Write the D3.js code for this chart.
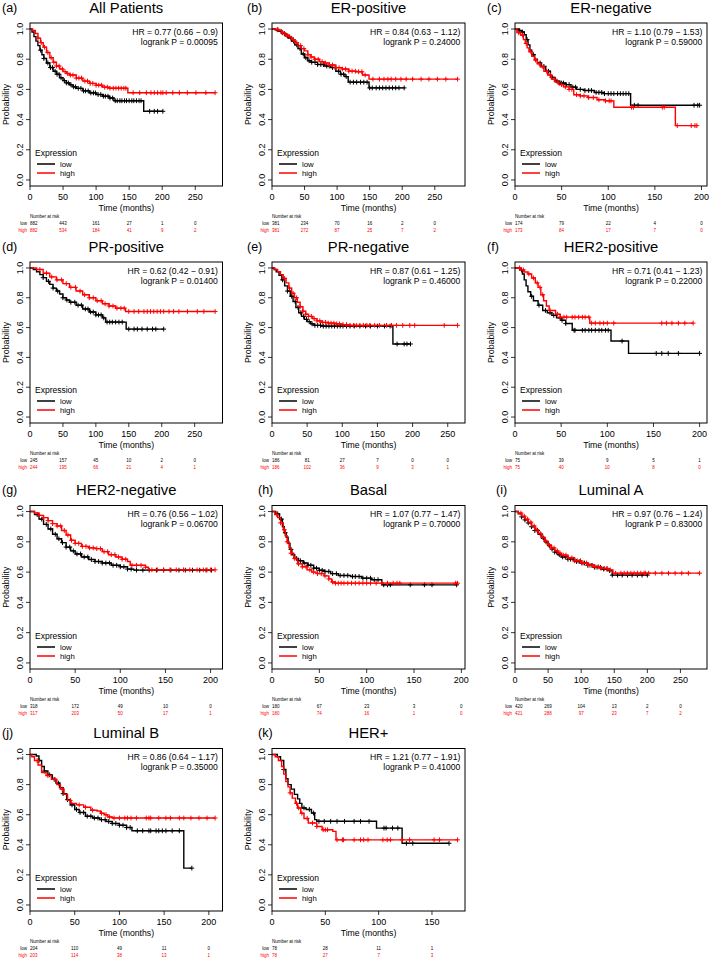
<!DOCTYPE html>
<html><head><meta charset="utf-8">
<script src="https://cdn.jsdelivr.net/npm/d3@7"></script>
<style>body{margin:0;background:#fff}svg{display:block}text{font-family:"Liberation Sans",Arial,sans-serif}</style>
</head><body>
<svg id="chart" width="713" height="960"></svg>
<script>
// ---------- DATA ----------
const titles = ["All Patients","ER-positive","ER-negative","PR-positive","PR-negative","HER2-positive","HER2-negative","Basal","Luminal A","Luminal B","HER+"];
const tags = ["(a)","(b)","(c)","(d)","(e)","(f)","(g)","(h)","(i)","(j)","(k)"];
const hrLabels = ["HR = 0.77 (0.66 \u2212 0.9)","HR = 0.84 (0.63 \u2212 1.12)","HR = 1.10 (0.79 \u2212 1.53)","HR = 0.62 (0.42 \u2212 0.91)","HR = 0.87 (0.61 \u2212 1.25)","HR = 0.71 (0.41 \u2212 1.23)","HR = 0.76 (0.56 \u2212 1.02)","HR = 1.07 (0.77 \u2212 1.47)","HR = 0.97 (0.76 \u2212 1.24)","HR = 0.86 (0.64 \u2212 1.17)","HR = 1.21 (0.77 \u2212 1.91)"];
const pLabels = ["logrank P = 0.00095","logrank P = 0.24000","logrank P = 0.59000","logrank P = 0.01400","logrank P = 0.46000","logrank P = 0.22000","logrank P = 0.06700","logrank P = 0.70000","logrank P = 0.83000","logrank P = 0.35000","logrank P = 0.41000"];
const xTicks = [
  [0,50,100,150,200,250],[0,50,100,150,200,250],[0,50,100,150,200],
  [0,50,100,150,200,250],[0,50,100,150,200,250],[0,50,100,150,200],
  [0,50,100,150,200],[0,50,100,150,200],[0,50,100,150,200,250],
  [0,50,100,150,200],[0,50,100,150]];
const yTicks = [0,0.2,0.4,0.6,0.8,1.0];
const riskLow = [[882,443,161,27,1,0],[381,234,70,16,2,0],[174,79,22,4,0],[245,157,45,10,2,0],[186,81,27,7,0,0],[75,39,9,5,1],[318,172,49,10,0],[180,67,23,3,0],[420,269,104,13,2,0],[204,110,49,11,0],[78,28,11,1]];
const riskHigh = [[882,534,184,41,9,2],[381,272,87,25,7,2],[173,84,17,7,0],[244,195,66,21,4,1],[186,102,36,9,3,1],[75,40,10,8,0],[317,203,50,17,1],[180,74,16,1,0],[421,288,97,23,7,2],[203,114,38,13,1],[78,27,7,3]];

// survival step knots [time, survival] (low = black, high = red)
const lowCurves = [
  [[0,1],[3,0.98],[6,0.95],[9,0.92],[12,0.89],[15,0.86],[18,0.83],[21,0.805],[25,0.775],[30,0.745],[35,0.72],[40,0.70],[45,0.677],[50,0.658],[55,0.643],[60,0.63],[65,0.617],[70,0.607],[80,0.59],[90,0.577],[100,0.566],[110,0.555],[120,0.543],[127,0.525],[172,0.455]],
  [[0,1],[5,0.995],[10,0.985],[15,0.97],[20,0.955],[25,0.94],[30,0.92],[35,0.895],[40,0.87],[45,0.835],[50,0.81],[55,0.79],[60,0.78],[70,0.765],[80,0.755],[90,0.745],[98,0.72],[105,0.70],[112,0.685],[117,0.648],[149,0.61]],
  [[0,1],[4,0.99],[7,0.98],[10,0.962],[12,0.93],[14,0.895],[16,0.86],[18,0.83],[21,0.80],[24,0.775],[28,0.752],[33,0.72],[38,0.68],[43,0.655],[48,0.642],[54,0.632],[60,0.615],[66,0.60],[74,0.593],[85,0.58],[95,0.572],[124,0.495]],
  [[0,1],[5,0.99],[10,0.975],[15,0.955],[20,0.935],[25,0.91],[30,0.89],[35,0.865],[40,0.845],[45,0.825],[50,0.80],[55,0.785],[60,0.77],[70,0.75],[80,0.725],[90,0.705],[100,0.685],[110,0.665],[115,0.637],[146,0.59]],
  [[0,1],[3,0.99],[6,0.975],[10,0.95],[14,0.92],[18,0.88],[22,0.845],[26,0.81],[30,0.775],[34,0.735],[38,0.70],[42,0.675],[46,0.655],[50,0.64],[55,0.625],[60,0.615],[70,0.61],[172,0.49]],
  [[0,1],[5,0.987],[8,0.96],[10,0.92],[12,0.88],[14,0.84],[17,0.81],[20,0.78],[25,0.75],[30,0.715],[35,0.70],[40,0.682],[45,0.665],[50,0.649],[55,0.627],[62,0.582],[104,0.51],[123,0.427]],
  [[0,1],[5,0.98],[10,0.95],[15,0.915],[20,0.885],[25,0.85],[30,0.82],[35,0.795],[40,0.765],[45,0.74],[50,0.72],[57,0.70],[65,0.683],[72,0.67],[80,0.66],[90,0.645],[100,0.635],[108,0.62],[115,0.613]],
  [[0,1],[4,0.985],[8,0.95],[11,0.90],[13,0.86],[15,0.83],[17,0.79],[19,0.75],[21,0.715],[24,0.69],[28,0.675],[33,0.66],[38,0.645],[44,0.626],[50,0.612],[55,0.604],[62,0.59],[70,0.578],[83,0.571],[95,0.56],[105,0.55],[116,0.516]],
  [[0,1],[5,0.985],[10,0.965],[15,0.945],[20,0.925],[25,0.90],[30,0.875],[35,0.85],[40,0.825],[45,0.80],[50,0.775],[55,0.752],[60,0.732],[65,0.715],[70,0.70],[80,0.685],[90,0.67],[100,0.66],[110,0.645],[120,0.632],[130,0.62],[140,0.61],[147,0.58]],
  [[0,1],[7,0.99],[10,0.96],[13,0.92],[16,0.89],[20,0.865],[25,0.835],[29,0.81],[33,0.78],[37,0.74],[41,0.70],[45,0.665],[50,0.635],[55,0.615],[62,0.59],[70,0.578],[78,0.567],[85,0.555],[92,0.542],[100,0.53],[108,0.515],[114,0.493],[172,0.245]],
  [[0,1],[5,0.985],[8,0.96],[11,0.90],[13,0.84],[15,0.80],[18,0.77],[21,0.735],[24,0.705],[26,0.675],[28,0.645],[32,0.635],[37,0.611],[40,0.567],[42,0.556],[98,0.511],[122,0.41]]
];
const highCurves = [
  [[0,1],[4,0.99],[8,0.97],[12,0.94],[16,0.91],[20,0.88],[25,0.845],[30,0.81],[35,0.78],[40,0.755],[45,0.735],[50,0.718],[55,0.705],[60,0.695],[70,0.675],[80,0.655],[90,0.64],[100,0.628],[110,0.615],[120,0.608],[148,0.578]],
  [[0,1],[5,0.998],[10,0.99],[15,0.975],[20,0.96],[25,0.95],[30,0.93],[35,0.91],[40,0.89],[45,0.87],[50,0.855],[55,0.83],[60,0.815],[65,0.80],[73,0.784],[80,0.775],[88,0.762],[98,0.744],[108,0.735],[118,0.721],[129,0.717],[139,0.695],[149,0.668]],
  [[0,1],[2,0.98],[4,0.975],[6,0.96],[9,0.93],[11,0.905],[13,0.875],[15,0.85],[18,0.82],[21,0.795],[24,0.77],[27,0.75],[31,0.72],[35,0.695],[39,0.668],[43,0.648],[47,0.632],[52,0.617],[58,0.60],[63,0.565],[70,0.557],[78,0.546],[88,0.531],[97,0.524],[106,0.482],[172,0.36]],
  [[0,1],[10,0.99],[20,0.965],[30,0.94],[40,0.92],[50,0.895],[60,0.87],[70,0.845],[80,0.82],[90,0.80],[100,0.78],[110,0.76],[120,0.745],[130,0.73],[145,0.708]],
  [[0,1],[4,0.99],[8,0.975],[12,0.955],[16,0.93],[20,0.90],[24,0.865],[28,0.83],[32,0.80],[36,0.77],[40,0.74],[44,0.71],[48,0.69],[52,0.675],[58,0.66],[64,0.645],[70,0.635],[80,0.63],[90,0.625],[100,0.62],[110,0.615]],
  [[0,1],[6,0.987],[10,0.973],[14,0.96],[18,0.933],[22,0.90],[25,0.87],[28,0.82],[31,0.78],[34,0.745],[37,0.715],[44,0.69],[49,0.67],[81,0.63]],
  [[0,1],[5,0.99],[10,0.975],[15,0.96],[20,0.94],[25,0.92],[30,0.905],[35,0.875],[40,0.845],[45,0.81],[50,0.79],[57,0.77],[65,0.76],[72,0.755],[80,0.735],[87,0.715],[95,0.70],[102,0.685],[108,0.67],[111,0.645],[128,0.632],[131,0.615]],
  [[0,1],[3,0.98],[6,0.96],[9,0.925],[12,0.88],[14,0.84],[16,0.80],[18,0.76],[20,0.725],[23,0.69],[27,0.655],[32,0.635],[37,0.615],[42,0.60],[48,0.59],[55,0.575],[60,0.555],[63,0.535],[66,0.527]],
  [[0,1],[5,0.99],[10,0.97],[15,0.95],[20,0.93],[25,0.905],[30,0.88],[35,0.855],[40,0.83],[45,0.805],[50,0.78],[55,0.76],[60,0.74],[65,0.725],[70,0.712],[80,0.695],[90,0.675],[100,0.66],[110,0.645],[120,0.635],[130,0.625],[140,0.615],[148,0.593]],
  [[0,1],[2,0.985],[5,0.96],[9,0.93],[13,0.88],[18,0.86],[24,0.835],[30,0.80],[34,0.77],[38,0.735],[42,0.695],[46,0.675],[52,0.665],[60,0.65],[68,0.63],[75,0.625],[79,0.61],[83,0.60],[87,0.585],[92,0.578]],
  [[0,1],[3,0.985],[6,0.96],[9,0.92],[11,0.87],[13,0.82],[15,0.785],[17,0.745],[19,0.71],[22,0.675],[24,0.645],[27,0.61],[30,0.575],[34,0.545],[42,0.522],[47,0.50],[57,0.489],[60,0.433]]
];
// censoring times (last value = end of follow-up)
const lowCensor = [
  [16,21,27,31,34,38,41,44,47,52,55,58,62,66,69,73,77,81,84,88,92,96,99,103,107,111,114,118,121,125,129,132,136,139,143,146,150,154,157,161,165,168,181,188,193,201],
  [8,14,19,24,29,33,38,43,48,52,57,61,66,70,75,79,84,88,93,97,102,106,110,114,120,125,130,136,141,146,150,154,160,165,170,175,180,185,190,195,203],
  [5,8,13,20,27,31,36,40,45,48,50,52,55,58,62,65,70,75,79,82,87,90,93,96,100,103,106,110,113,116,119,122,128,132,192,196,198],
  [20,28,35,42,50,56,62,68,73,78,84,88,92,96,100,104,108,112,117,121,125,130,135,140,150,158,163,170,178,186,191,203],
  [15,22,28,33,37,41,45,49,53,57,61,65,69,73,77,81,85,89,93,97,101,106,111,117,125,133,140,150,160,168,178,188,192,197],
  [7,18,26,33,38,42,49,51,55,64,65,73,76,80,83,87,91,94,98,101,116,153,159,166,177,200],
  [8,13,18,23,28,32,36,40,44,48,52,56,60,64,68,72,76,80,84,88,92,96,100,104,108,112,118,125,132,140,148,156,165,172,180,188,195,201],
  [6,10,14,20,26,30,34,38,41,44,47,50,53,56,60,64,68,72,76,80,85,88,92,96,100,104,108,112,118,122,125,146,161,169,195],
  [10,15,20,25,30,34,39,43,47,52,56,60,63,67,72,76,80,84,88,93,97,101,105,110,115,120,124,129,134,139,143,147,155,162,170,177,185,192,200],
  [10,16,22,27,32,37,42,47,52,56,60,64,68,72,76,80,84,88,92,96,100,104,108,112,120,126,133,135,141,144,148,152,159,167,181],
  [11,30,35,39,44,49,55,61,68,77,83,91,105,107,113,118,126,132,166]
];
const highCensor = [
  [12,17,22,27,32,36,40,44,49,53,57,61,65,70,74,78,83,87,91,95,100,104,108,113,117,121,126,130,134,138,142,145,156,166,176,183,188,193,198,201,206,216,226,238,251,266,280],
  [9,16,22,27,33,38,44,49,55,60,66,71,77,82,88,93,98,103,108,113,118,123,128,133,138,143,155,165,172,178,183,190,198,206,216,229,241,254,267,285],
  [4,8,12,17,22,26,30,34,38,42,46,50,54,58,61,66,70,74,79,84,90,97,101,103,125,127,158,160,174,189,193,195],
  [15,25,33,41,48,55,62,69,76,83,90,96,102,108,114,120,126,132,138,143,150,158,165,173,178,183,188,193,198,203,211,218,226,239,254,264,281],
  [18,25,30,35,40,44,48,52,56,60,64,68,72,76,80,84,88,92,96,101,106,111,116,120,125,130,135,139,146,153,163,170,177,186,196,203,245,264],
  [5,9,15,20,24,27,30,38,46,49,53,56,62,65,69,73,76,80,83,87,92,96,100,107,159,164,170,177,184,193],
  [10,15,20,25,30,34,38,42,46,50,54,58,62,66,70,74,78,82,86,90,94,98,102,106,113,118,123,128,135,141,148,155,162,170,177,185,192,196,200,205],
  [5,9,13,16,20,24,28,32,36,40,44,48,52,56,60,64,67,70,73,76,80,84,88,92,96,100,104,110,116,122,128,132,135,194,196],
  [9,14,19,24,29,33,38,42,46,51,55,59,64,68,73,77,81,86,90,94,99,103,108,112,117,121,126,130,135,139,144,152,160,165,170,175,180,185,190,195,197,202,212,222,232,242,252,262,279],
  [8,20,28,36,45,55,62,70,80,85,89,94,100,106,109,113,119,130,133,135,144,152,157,167,172,180,189,198,207],
  [17,23,25,28,33,38,42,48,50,52,61,66,67,77,83,86,90,104,108,111,122,129,152,157,174]
];

// ---------- LAYOUT ----------
const colL = [30, 272, 515], colR = [222.5, 465, 707];
const rowT = [23, 262, 505.5, 748.5], rowB = [186, 423, 669, 911];
const tagX = [[2,247,487],[2,247,487],[2,258,496],[2,258,496]];

const svg = d3.select("#chart");
svg.append("rect").attr("width",713).attr("height",960).attr("fill","#fff");

function survAt(knots, t){
  let s = knots[0][1];
  for (const k of knots){ if (k[0] <= t) s = k[1]; else break; }
  return s;
}

titles.forEach((title, i) => {
  const col = i % 3, row = Math.floor(i / 3);
  const x0 = colL[col], x1 = colR[col], y0 = rowT[row], y1 = rowB[row];
  const endLow = lowCensor[i][lowCensor[i].length-1];
  const endHigh = highCensor[i][highCensor[i].length-1];
  const maxT = Math.max(endLow, endHigh);
  const x = d3.scaleLinear().domain([0, maxT*1.04]).range([x0, x1]);
  const y = d3.scaleLinear().domain([-0.04, 1.04]).range([y1, y0]);
  const g = svg.append("g");

  // tag and title
  g.append("text").attr("x", tagX[row][col]).attr("y", y0-11.5)
    .attr("font-family",'"Liberation Serif","Times New Roman",serif').attr("font-size",12.5).text(tags[i]);
  g.append("text").attr("x",(x0+x1)/2).attr("y",y0-10.5).attr("text-anchor","middle")
    .attr("font-size",14.8).text(title);

  // axes ticks
  const xt = xTicks[i];
  xt.forEach(v => {
    g.append("line").attr("x1",x(v)).attr("x2",x(v)).attr("y1",y1).attr("y2",y1+4).attr("stroke","#000").attr("stroke-width",0.8);
    g.append("text").attr("x",x(v)).attr("y",y1+13.5).attr("text-anchor","middle").attr("font-size",9).text(v);
  });
  yTicks.forEach(v => {
    g.append("line").attr("x1",x0-4).attr("x2",x0).attr("y1",y(v)).attr("y2",y(v)).attr("stroke","#000").attr("stroke-width",0.8);
    g.append("text").attr("transform",`translate(${x0-7.5},${y(v)}) rotate(-90)`).attr("text-anchor","middle")
      .attr("font-size",9).text(v.toFixed(1));
  });
  g.append("text").attr("x",(x0+x1)/2).attr("y",y1+24.5).attr("text-anchor","middle").attr("font-size",8.7).text("Time (months)");
  g.append("text").attr("transform",`translate(${x0-21.5},${(y0+y1)/2}) rotate(-90)`).attr("text-anchor","middle")
    .attr("font-size",8.8).text("Probability");

  // curves
  const drawCurve = (knots, censor, color) => {
    const end = censor[censor.length-1];
    let d = `M${x(knots[0][0])},${y(knots[0][1])}`;
    for (let k = 1; k < knots.length; k++){
      d += `H${x(knots[k][0])}V${y(knots[k][1])}`;
    }
    d += `H${x(end)}`;
    g.append("path").attr("d",d).attr("fill","none").attr("stroke",color).attr("stroke-width",1.4);
    censor.forEach(t => {
      const cx = x(t), cy = y(survAt(knots,t));
      g.append("path").attr("d",`M${cx},${cy-2.4}V${cy+2.4}M${cx-2.4},${cy}H${cx+2.4}`)
        .attr("stroke",color).attr("stroke-width",1);
    });
  };
  drawCurve(lowCurves[i], lowCensor[i], "#000");
  drawCurve(highCurves[i], highCensor[i], "#ff0000");

  // box
  g.append("rect").attr("x",x0).attr("y",y0).attr("width",x1-x0).attr("height",y1-y0)
    .attr("fill","none").attr("stroke","#000").attr("stroke-width",1);

  // HR text
  g.append("text").attr("x",x1-4.7).attr("y",y0+11.5).attr("text-anchor","end").attr("font-size",8.6).text(hrLabels[i]);
  g.append("text").attr("x",x1-4.7).attr("y",y0+21.5).attr("text-anchor","end").attr("font-size",8.6).text(pLabels[i]);

  // legend
  g.append("text").attr("x",x0+5).attr("y",y1-30.5).attr("font-size",8.5).text("Expression");
  [["low","#000",y1-22],["high","#ff0000",y1-13]].forEach(([lab,c,ly]) => {
    g.append("line").attr("x1",x0+7).attr("x2",x0+25).attr("y1",ly).attr("y2",ly).attr("stroke",c).attr("stroke-width",1.5);
    g.append("text").attr("x",x0+30).attr("y",ly+2.8).attr("font-size",7.8).text(lab);
  });

  // number at risk
  g.append("text").attr("x",x0).attr("y",y1+32).attr("font-size",4.5).text("Number at risk");
  [["low","#000",riskLow[i],y1+38.5],["high","#ff0000",riskHigh[i],y1+45.7]].forEach(([lab,c,vals,ry]) => {
    g.append("text").attr("x",x0-3).attr("y",ry).attr("text-anchor","end").attr("font-size",4.5).attr("fill",c).text(lab);
    vals.forEach((v,k) => {
      g.append("text").attr("x",x(xt[k])).attr("y",ry).attr("text-anchor",k===0?"start":"middle")
        .attr("font-size",4.5).attr("fill",c).text(v);
    });
  });
});
</script>
</body></html>
